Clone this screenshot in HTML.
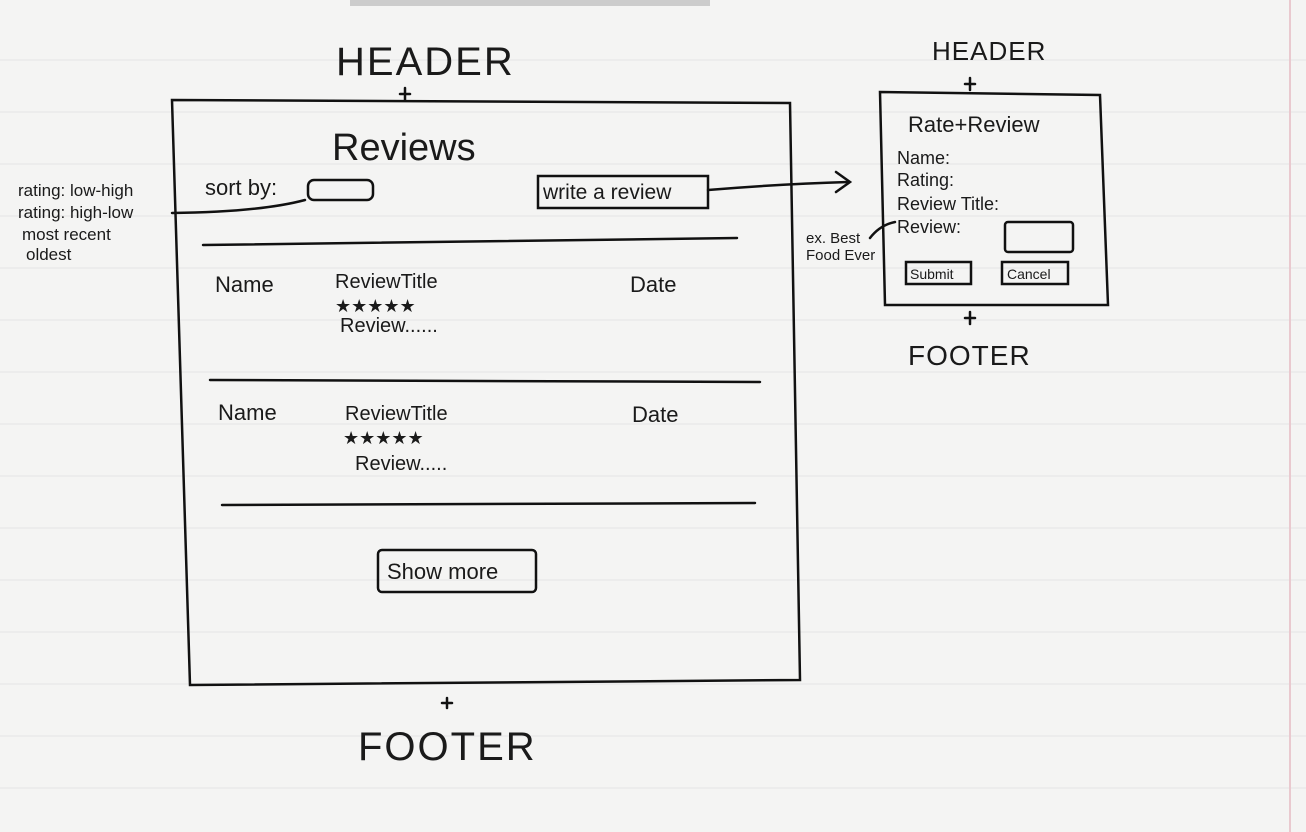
<!DOCTYPE html>
<html><head><meta charset="utf-8"><style>
html,body{margin:0;padding:0;background:#f3f3f2;}
svg{display:block}
text{font-family:"Liberation Sans",sans-serif;fill:#1a1a1a}
</style></head><body>
<svg width="1306" height="832" viewBox="0 0 1306 832" xmlns="http://www.w3.org/2000/svg">
<rect width="1306" height="832" fill="#f4f4f3"/>
<g stroke="#e4e4e6" stroke-width="1">
<line x1="0" y1="60" x2="1306" y2="60"/><line x1="0" y1="112" x2="1306" y2="112"/>
<line x1="0" y1="164" x2="1306" y2="164"/><line x1="0" y1="216" x2="1306" y2="216"/>
<line x1="0" y1="268" x2="1306" y2="268"/><line x1="0" y1="320" x2="1306" y2="320"/>
<line x1="0" y1="372" x2="1306" y2="372"/><line x1="0" y1="424" x2="1306" y2="424"/>
<line x1="0" y1="476" x2="1306" y2="476"/><line x1="0" y1="528" x2="1306" y2="528"/>
<line x1="0" y1="580" x2="1306" y2="580"/><line x1="0" y1="632" x2="1306" y2="632"/>
<line x1="0" y1="684" x2="1306" y2="684"/><line x1="0" y1="736" x2="1306" y2="736"/>
<line x1="0" y1="788" x2="1306" y2="788"/>
</g>
<line x1="1290" y1="0" x2="1290" y2="832" stroke="#e9c9cf" stroke-width="2"/>
<rect x="350" y="0" width="360" height="6" fill="#ccc"/>
<g fill="none" stroke="#111" stroke-width="2.5" stroke-linecap="round">
<path d="M172 100 L790 103 L800 680 L190 685 Z"/>
<line x1="203" y1="245" x2="737" y2="238"/>
<line x1="210" y1="380" x2="760" y2="382"/>
<line x1="222" y1="505" x2="755" y2="503"/>
<rect x="308" y="180" width="65" height="20" rx="6"/>
<rect x="538" y="176" width="170" height="32"/>
<rect x="378" y="550" width="158" height="42" rx="4"/>
<path d="M708 190 Q780 184 848 182"/><path d="M836 172 L850 182 L836 192"/>
<path d="M880 92 L1100 95 L1108 305 L885 305 Z"/>
<rect x="1005" y="222" width="68" height="30" rx="3"/>
<rect x="906" y="262" width="65" height="22"/>
<rect x="1002" y="262" width="66" height="22"/>
<path d="M172 213 Q260 212 305 200"/>
<path d="M870 238 Q880 225 895 222"/>
<line x1="405" y1="88" x2="405" y2="100"/><line x1="400" y1="94" x2="410" y2="94"/>
<line x1="970" y1="78" x2="970" y2="90"/><line x1="965" y1="84" x2="975" y2="84"/>
<line x1="970" y1="312" x2="970" y2="324"/><line x1="965" y1="318" x2="975" y2="318"/>
<line x1="447" y1="698" x2="447" y2="708"/><line x1="442" y1="703" x2="452" y2="703"/>
</g>
<text x="336" y="75" font-size="40" letter-spacing="2">HEADER</text>
<text x="332" y="160" font-size="38">Reviews</text>
<text x="205" y="195" font-size="22">sort by:</text>
<text x="543" y="199" font-size="21">write a review</text>
<text x="18" y="196" font-size="17">rating: low-high</text>
<text x="18" y="218" font-size="17">rating: high-low</text>
<text x="22" y="240" font-size="17">most recent</text>
<text x="26" y="260" font-size="17">oldest</text>
<text x="215" y="292" font-size="22">Name</text>
<text x="335" y="288" font-size="20">ReviewTitle</text>
<text x="335" y="312" font-size="18">★★★★★</text>
<text x="340" y="332" font-size="20">Review......</text>
<text x="630" y="292" font-size="22">Date</text>
<text x="218" y="420" font-size="22">Name</text>
<text x="345" y="420" font-size="20">ReviewTitle</text>
<text x="343" y="444" font-size="18">★★★★★</text>
<text x="355" y="470" font-size="20">Review.....</text>
<text x="632" y="422" font-size="22">Date</text>
<text x="387" y="579" font-size="22">Show more</text>
<text x="358" y="760" font-size="40" letter-spacing="2">FOOTER</text>
<text x="932" y="60" font-size="26" letter-spacing="1">HEADER</text>
<text x="908" y="132" font-size="22">Rate+Review</text>
<text x="897" y="164" font-size="18">Name:</text>
<text x="897" y="186" font-size="18">Rating:</text>
<text x="897" y="210" font-size="18">Review Title:</text>
<text x="897" y="233" font-size="18">Review:</text>
<text x="910" y="279" font-size="14">Submit</text>
<text x="1007" y="279" font-size="14">Cancel</text>
<text x="806" y="243" font-size="15">ex. Best</text>
<text x="806" y="260" font-size="15">Food Ever</text>
<text x="908" y="365" font-size="28" letter-spacing="1">FOOTER</text>
</svg>
</body></html>
